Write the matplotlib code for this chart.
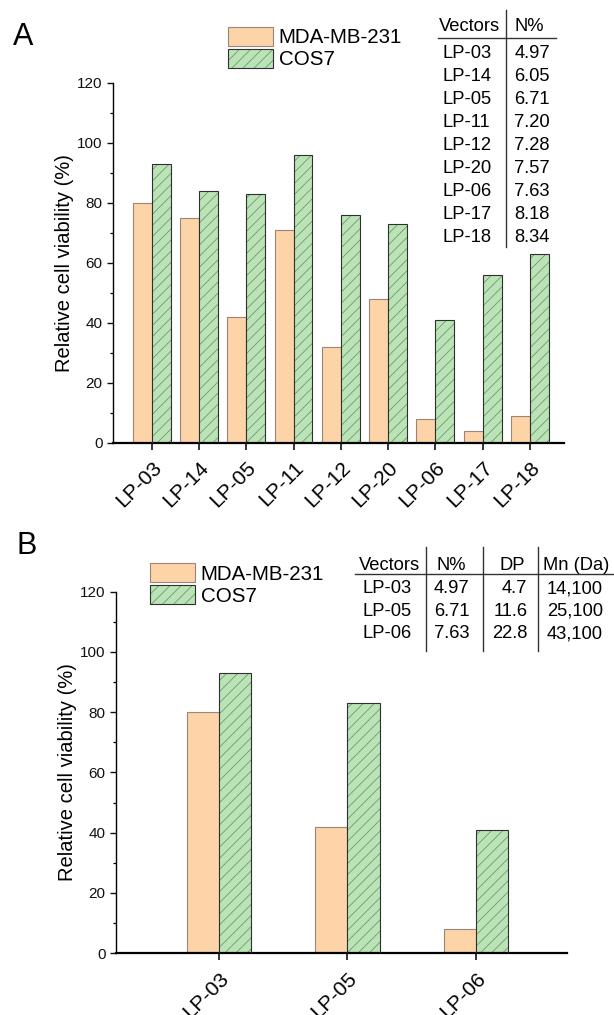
import matplotlib
matplotlib.use("Agg")
import matplotlib.pyplot as plt
import numpy as np
from matplotlib.lines import Line2D
from matplotlib.ticker import MultipleLocator

plt.rcParams['font.family'] = ['Liberation Sans', 'DejaVu Sans']
plt.rcParams['hatch.linewidth'] = 0.55

# ---------------- data ----------------
cats_a = ["LP-03", "LP-14", "LP-05", "LP-11", "LP-12", "LP-20", "LP-06", "LP-17", "LP-18"]
mda_a = [80, 75, 42, 71, 32, 48, 8, 4, 9]
cos_a = [93, 84, 83, 96, 76, 73, 41, 56, 63]

cats_b = ["LP-03", "LP-05", "LP-06"]
mda_b = [80, 42, 8]
cos_b = [93, 83, 41]

series_names = ["MDA-MB-231", "COS7"]

tab_a_vectors = ["LP-03", "LP-14", "LP-05", "LP-11", "LP-12", "LP-20", "LP-06", "LP-17", "LP-18"]
tab_a_n = ["4.97", "6.05", "6.71", "7.20", "7.28", "7.57", "7.63", "8.18", "8.34"]

tab_b_vectors = ["LP-03", "LP-05", "LP-06"]
tab_b_n = ["4.97", "6.71", "7.63"]
tab_b_dp = ["4.7", "11.6", "22.8"]
tab_b_mn = ["14,100", "25,100", "43,100"]

ylabel = "Relative cell viability (%)"

# ---------------- style ----------------
ORANGE = "#FDD3A8"
ORANGE_EDGE = "#9a8676"
GREEN = "#BCE3B8"
GREEN_HATCH = "#5e9a5e"
GREEN_EDGE = "#2f2f2f"

W, H = 614, 1015
fig = plt.figure(figsize=(W / 100, H / 100), dpi=100)


def fx(x):
    return x / W


def fy(y):
    return 1 - y / H


def axes_from_px(left, right, top, bottom):
    return fig.add_axes([fx(left), fy(bottom), (right - left) / W, (bottom - top) / H])


def style_axes(ax, cats, xlim):
    ax.set_xlim(*xlim)
    ax.set_ylim(0, 120)
    ax.spines['top'].set_visible(False)
    ax.spines['right'].set_visible(False)
    ax.spines['left'].set_linewidth(1.0)
    ax.spines['bottom'].set_linewidth(1.6)
    ax.yaxis.set_major_locator(MultipleLocator(20))
    ax.yaxis.set_minor_locator(MultipleLocator(10))
    ax.tick_params(axis='y', which='major', direction='out', length=4.3, width=1.0,
                   labelsize=11, pad=3.4, colors='#111111')
    ax.tick_params(axis='y', which='minor', direction='out', length=2.5, width=0.9)
    ax.set_xticks(np.arange(len(cats)))
    ax.set_xticklabels(cats, fontsize=15, rotation=45, ha='right', rotation_mode='anchor')
    ax.tick_params(axis='x', which='major', direction='out', length=5, width=1.1, pad=6)
    ax.tick_params(axis='x', which='minor', bottom=False)
    ax.set_ylabel(ylabel, fontsize=14.5)
    ax.yaxis.set_label_coords(-0.0868, 0.5)


def draw_bars(ax, mda, cos, width):
    x = np.arange(len(mda))
    b1 = ax.bar(x - width / 2, mda, width, color=ORANGE, edgecolor=ORANGE_EDGE, linewidth=0.8, zorder=2)
    b2 = ax.bar(x + width / 2, cos, width, color=GREEN, edgecolor=GREEN_HATCH, linewidth=0,
                hatch='///', zorder=2)
    b3 = ax.bar(x + width / 2, cos, width, fill=False, edgecolor=GREEN_EDGE, linewidth=0.8, zorder=3)
    return b1, b2, b3


def draw_legend(ax, bars, left_px, top_px):
    b1, b2, b3 = bars
    leg = ax.legend([b1, (b2, b3)], series_names, loc='upper left',
                    bbox_to_anchor=(fx(left_px), fy(top_px)), bbox_transform=fig.transFigure,
                    frameon=False, fontsize=14.8, borderpad=0, borderaxespad=0,
                    handlelength=2.18, handleheight=1.05, handletextpad=0.28, labelspacing=0.07)
    return leg


# ---------------- panel A ----------------
axA = axes_from_px(113.4, 564, 82.7, 443)
barsA = draw_bars(axA, mda_a, cos_a, 0.4)
style_axes(axA, cats_a, (-0.81, 8.72))
draw_legend(axA, barsA, 228, 26.7)
fig.text(fx(13), fy(45), "A", fontsize=22, va='baseline', ha='left')

# table A
TFS = 13.2
fig.text(fx(439.3), fy(30.7), "Vectors", fontsize=TFS, va='baseline', ha='left')
fig.text(fx(515), fy(30.7), "N%", fontsize=TFS, va='baseline', ha='left')
for i, (v, n) in enumerate(zip(tab_a_vectors, tab_a_n)):
    yb = 58.3 + 23.0 * i
    fig.text(fx(442.7), fy(yb), v, fontsize=TFS, va='baseline', ha='left')
    fig.text(fx(514.3), fy(yb), n, fontsize=TFS, va='baseline', ha='left')
fig.add_artist(Line2D([fx(506), fx(506)], [fy(10), fy(247)], color='#333333', lw=1.0))
fig.add_artist(Line2D([fx(438.3), fx(556)], [fy(37.7), fy(37.7)], color='#333333', lw=1.0))

# ---------------- panel B ----------------
axB = axes_from_px(116.3, 566.5, 591.5, 953.3)
barsB = draw_bars(axB, mda_b, cos_b, 0.25)
style_axes(axB, cats_b, (-0.803, 2.708))
draw_legend(axB, barsB, 150, 563.3)
fig.text(fx(16.5), fy(554), "B", fontsize=22, va='baseline', ha='left')

# table B
fig.text(fx(359), fy(570), "Vectors", fontsize=TFS, va='baseline', ha='left')
fig.text(fx(436.7), fy(570), "N%", fontsize=TFS, va='baseline', ha='left')
fig.text(fx(525), fy(570), "DP", fontsize=TFS, va='baseline', ha='right')
fig.text(fx(543.3), fy(570), "Mn (Da)", fontsize=TFS, va='baseline', ha='left')
for i, (v, n, dp, mn) in enumerate(zip(tab_b_vectors, tab_b_n, tab_b_dp, tab_b_mn)):
    yb = 593.3 + 22.5 * i
    fig.text(fx(362.7), fy(yb), v, fontsize=TFS, va='baseline', ha='left')
    fig.text(fx(434), fy(yb), n, fontsize=TFS, va='baseline', ha='left')
    fig.text(fx(527.5), fy(yb), dp, fontsize=TFS, va='baseline', ha='right')
    fig.text(fx(546.7), fy(yb), mn, fontsize=TFS, va='baseline', ha='left')
for xv in (425.7, 482.7, 537.7):
    fig.add_artist(Line2D([fx(xv), fx(xv)], [fy(547.3), fy(650.7)], color='#333333', lw=1.0))
fig.add_artist(Line2D([fx(355), fx(614)], [fy(574.3), fy(574.3)], color='#333333', lw=1.0))

fig.savefig("out.png", dpi=100)
